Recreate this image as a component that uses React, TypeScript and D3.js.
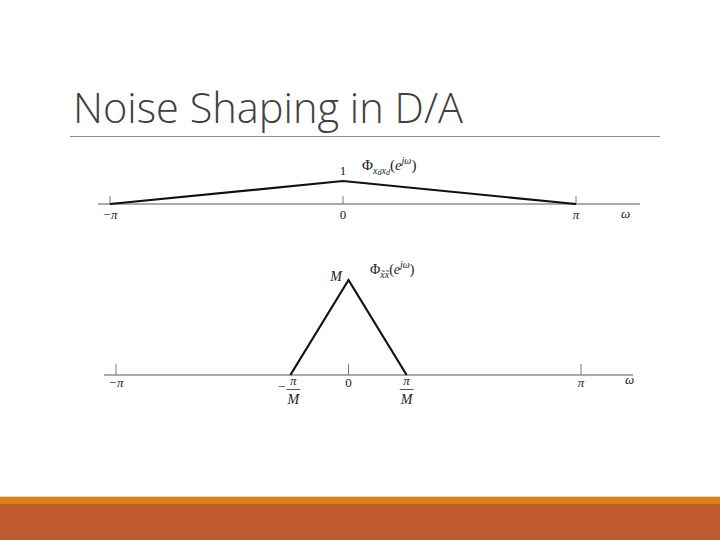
import * as d3 from "d3";

// frequency in units of pi, spectrum values
const topOmega = [-1, 0, 1];
const topPhi = [0, 1, 0];

const M = 4;
const botOmega = [-0.25, 0, 0.25];
const botPhi = [0, M, 0];

const topTicks = [-1, 0, 1];
const topTickLabels = ["−π", "0", "π"];
const botTicks = [-1, 0, 1];
const botTickLabels = ["−π", "0", "π"];

const serif = "'Liberation Serif', 'DejaVu Serif', serif";

export default function App() {
  const PI = Math.PI;

  // top panel
  const xTop = d3.scaleLinear().domain([-PI, PI]).range([110, 576]);
  const yTop = d3.scaleLinear().domain([0, 1]).range([204, 181]);
  const lineTop = d3
    .line<number>()
    .x((d, i) => xTop(topOmega[i] * PI))
    .y((d) => yTop(d));

  // bottom panel
  const xBot = d3.scaleLinear().domain([-PI, PI]).range([116, 581]);
  const yBot = d3.scaleLinear().domain([0, M]).range([375, 280]);
  const lineBot = d3
    .line<number>()
    .x((d, i) => xBot(botOmega[i] * PI))
    .y((d) => yBot(d));

  return (
    <svg
      width={720}
      height={540}
      style={{ position: "absolute", left: 0, top: 0, background: "#fff" }}
    >
      {/* title */}
      <text
        x={73}
        y={123}
        fontFamily="'Open Sans', 'Noto Sans', sans-serif"
        fontWeight={300}
        fontSize={43}
        fill="#404040"
        textLength={390}
        lengthAdjust="spacingAndGlyphs"
      >
        Noise Shaping in D/A
      </text>
      <line x1={70} x2={660} y1={136.5} y2={136.5} stroke="#8c8c8c" strokeWidth={1} />

      {/* top chart */}
      <line x1={98} x2={640} y1={yTop(0)} y2={yTop(0)} stroke="#555" strokeWidth={1} />
      {topTicks.map((t, i) => (
        <g key={"tt" + i}>
          <line
            x1={xTop(t * PI)}
            x2={xTop(t * PI)}
            y1={yTop(0)}
            y2={yTop(0) - 8}
            stroke="#777"
            strokeWidth={1}
          />
          <text
            x={xTop(t * PI)}
            y={yTop(0) + 15}
            textAnchor="middle"
            fontFamily={serif}
            fontSize={13}
            fontStyle={t === 0 ? "normal" : "italic"}
            fill="#222"
          >
            {topTickLabels[i]}
          </text>
        </g>
      ))}
      <path d={lineTop(topPhi) || ""} fill="none" stroke="#111" strokeWidth={2.2} />
      <text x={xTop(0)} y={175} textAnchor="middle" fontFamily={serif} fontSize={13} fill="#222">
        1
      </text>
      <text x={362} y={170} fontFamily={serif} fontSize={15} fill="#222">
        Φ
        <tspan fontSize={10} fontStyle="italic" dy={4}>
          x
        </tspan>
        <tspan fontSize={8} fontStyle="italic" dy={1}>
          d
        </tspan>
        <tspan fontSize={10} fontStyle="italic" dy={-1}>
          x
        </tspan>
        <tspan fontSize={8} fontStyle="italic" dy={1}>
          d
        </tspan>
        <tspan dy={-5}>(</tspan>
        <tspan fontStyle="italic">e</tspan>
        <tspan fontSize={10} fontStyle="italic" dy={-6}>
          jω
        </tspan>
        <tspan dy={6}>)</tspan>
      </text>
      <text x={621} y={218} fontFamily={serif} fontSize={13} fontStyle="italic" fill="#222">
        ω
      </text>

      {/* bottom chart */}
      <line x1={104} x2={633} y1={yBot(0)} y2={yBot(0)} stroke="#555" strokeWidth={1} />
      {botTicks.map((t, i) => (
        <g key={"bt" + i}>
          <line
            x1={xBot(t * PI)}
            x2={xBot(t * PI)}
            y1={yBot(0)}
            y2={yBot(0) - 11}
            stroke="#777"
            strokeWidth={1}
          />
          <text
            x={xBot(t * PI)}
            y={yBot(0) + 12}
            textAnchor="middle"
            fontFamily={serif}
            fontSize={13}
            fontStyle={t === 0 ? "normal" : "italic"}
            fill="#222"
          >
            {botTickLabels[i]}
          </text>
        </g>
      ))}
      <path d={lineBot(botPhi) || ""} fill="none" stroke="#111" strokeWidth={2.2} />
      {/* -pi/M and pi/M fraction labels */}
      {[botOmega[0], botOmega[2]].map((w, i) => {
        const cx = xBot(w * PI) + (i === 0 ? 3 : 0);
        return (
          <g key={"fr" + i} fontFamily={serif} fill="#222">
            {i === 0 && (
              <text x={cx - 12} y={391} fontSize={13} textAnchor="middle">
                −
              </text>
            )}
            <text x={cx} y={385} fontSize={13} fontStyle="italic" textAnchor="middle">
              π
            </text>
            <line x1={cx - 7} x2={cx + 7} y1={389.5} y2={389.5} stroke="#333" strokeWidth={0.8} />
            <text x={cx} y={404} fontSize={14} fontStyle="italic" textAnchor="middle">
              M
            </text>
          </g>
        );
      })}
      <text x={336} y={281} textAnchor="middle" fontFamily={serif} fontSize={14} fontStyle="italic" fill="#222">
        M
      </text>
      <text x={370} y={274} fontFamily={serif} fontSize={14} fill="#222">
        Φ
        <tspan fontSize={10} fontStyle="italic" dy={4}>
          x̃x̃
        </tspan>
        <tspan dy={-4}>(</tspan>
        <tspan fontStyle="italic">e</tspan>
        <tspan fontSize={10} fontStyle="italic" dy={-6}>
          jω
        </tspan>
        <tspan dy={6}>)</tspan>
      </text>
      <text x={625} y={384} fontFamily={serif} fontSize={13} fontStyle="italic" fill="#222">
        ω
      </text>

      {/* footer band */}
      <rect x={0} y={496} width={720} height={1} fill="#f3d9b0" />
      <rect x={0} y={497} width={720} height={7} fill="#E0801A" />
      <rect x={0} y={504} width={720} height={36} fill="#BE5A2C" />
    </svg>
  );
}
